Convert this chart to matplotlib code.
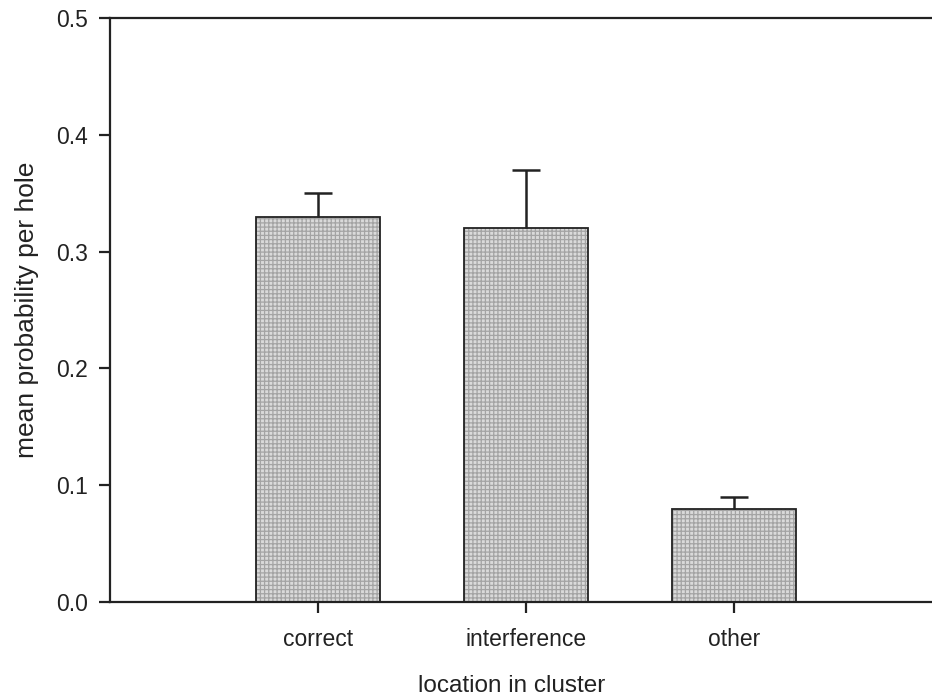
import matplotlib
matplotlib.use("Agg")
import matplotlib.pyplot as plt
import numpy as np

plt.rcParams['font.family'] = ['Liberation Sans', 'DejaVu Sans']
plt.rcParams['hatch.linewidth'] = 0.9
plt.rcParams['hatch.color'] = "#a4a4a4"

categories = ["correct", "interference", "other"]
means = [0.33, 0.32, 0.08]
upper_err = [0.02, 0.05, 0.01]
yticks = [0.0, 0.1, 0.2, 0.3, 0.4, 0.5]

fig = plt.figure(figsize=(9.32, 6.96), dpi=100)
ax = fig.add_axes([110/932, 94/696, 832/932, 584/696])

x = np.arange(len(categories))
bars = ax.bar(x, means, width=0.6, color="#dadada", edgecolor="#222222",
              linewidth=1.3, hatch="++++", zorder=2)
for b in bars:
    b._hatch_color = matplotlib.colors.to_rgba("#a4a4a4")

eb = ax.errorbar(x, means, yerr=[np.zeros(len(means)), upper_err], fmt="none",
                 ecolor="#222222", elinewidth=1.8, capsize=10, capthick=1.8, zorder=3)
eb[1][0].set_visible(False)  # hide the lower cap sitting on the bar top

ax.set_xlim(-1, 3)
ax.set_ylim(0, 0.5)
ax.set_xticks(x)
ax.set_xticklabels(categories)
ax.set_yticks(yticks)
ax.set_yticklabels(["%.1f" % v for v in yticks])

for side in ["left", "bottom", "top"]:
    ax.spines[side].set_linewidth(1.6)
    ax.spines[side].set_color("#222222")
ax.spines["right"].set_visible(False)

ax.tick_params(direction="out", length=8, width=1.6, color="#222222",
               labelsize=16.5, pad=8, labelcolor="#222222")
ax.tick_params(axis="x", pad=11)

ax.set_xlabel("location in cluster", fontsize=17.5, color="#222222", labelpad=16)
ax.xaxis.set_label_coords(0.483, -0.125)
ax.set_ylabel("mean probability per hole", fontsize=19, color="#222222", labelpad=12)

fig.savefig("out.png", dpi=100)
